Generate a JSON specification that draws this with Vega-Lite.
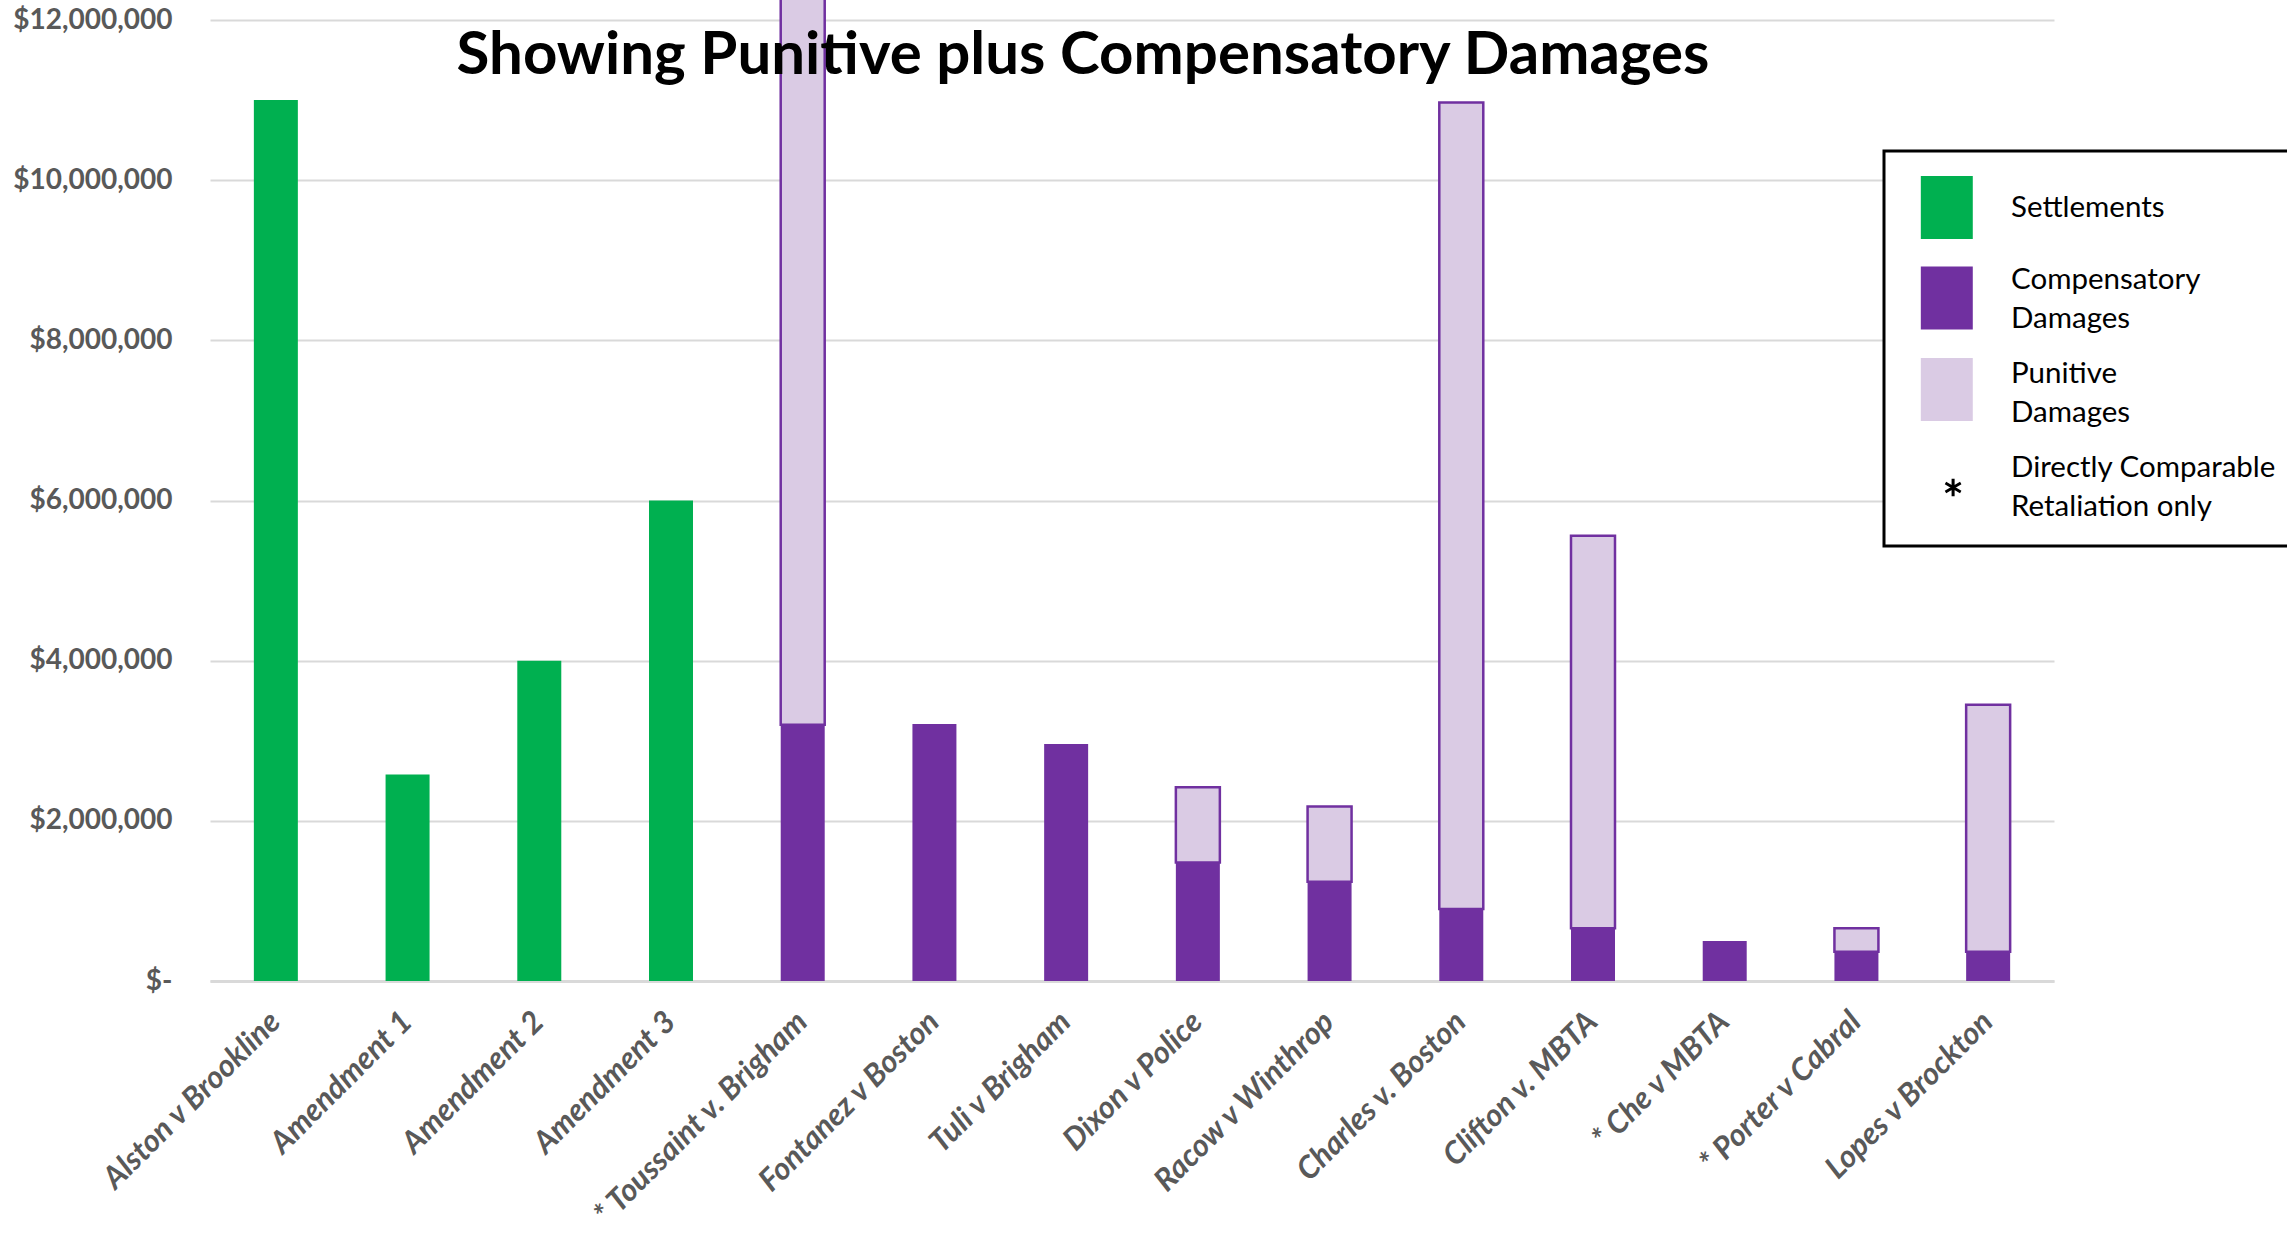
{
  "$schema": "https://vega.github.io/schema/vega-lite/v6.json",
  "width": 1844,
  "height": 961,
  "autosize": {"type": "none"},
  "padding": {"left": 210, "top": 20, "right": 233, "bottom": 265},
  "background": "white",
  "config": {
    "view": {"stroke": null},
    "font": "Lato",
    "legend": {"strokeWidth": 3},
    "style": {"guide-label": {"lineHeight": 39}}
  },
  "title": {
    "text": "Showing Punitive plus Compensatory Damages",
    "frame": "group",
    "anchor": "middle",
    "orient": "top",
    "offset": -139,
    "dx": -49,
    "baseline": "alphabetic",
    "font": "Lato",
    "fontSize": 60,
    "fontWeight": "bold",
    "color": "black"
  },
  "data": {
    "values": [
      {"case": "Alston v Brookline", "type": "Settlements", "amount": 11000000},
      {"case": "Amendment 1", "type": "Settlements", "amount": 2580000},
      {"case": "Amendment 2", "type": "Settlements", "amount": 4000000},
      {"case": "Amendment 3", "type": "Settlements", "amount": 6000000},
      {"case": "Toussaint v. Brigham", "type": "Compensatory Damages", "amount": 3200000},
      {"case": "Toussaint v. Brigham", "type": "Punitive Damages", "amount": 9100000},
      {"case": "Fontanez v Boston", "type": "Compensatory Damages", "amount": 3210000},
      {"case": "Tuli v Brigham", "type": "Compensatory Damages", "amount": 2960000},
      {"case": "Dixon v Police", "type": "Compensatory Damages", "amount": 1480000},
      {"case": "Dixon v Police", "type": "Punitive Damages", "amount": 940000},
      {"case": "Racow v Winthrop", "type": "Compensatory Damages", "amount": 1240000},
      {"case": "Racow v Winthrop", "type": "Punitive Damages", "amount": 940000},
      {"case": "Charles v. Boston", "type": "Compensatory Damages", "amount": 900000},
      {"case": "Charles v. Boston", "type": "Punitive Damages", "amount": 10070000},
      {"case": "Clifton v. MBTA", "type": "Compensatory Damages", "amount": 660000},
      {"case": "Clifton v. MBTA", "type": "Punitive Damages", "amount": 4900000},
      {"case": "Che v MBTA", "type": "Compensatory Damages", "amount": 500000},
      {"case": "Porter v Cabral", "type": "Compensatory Damages", "amount": 365000},
      {"case": "Porter v Cabral", "type": "Punitive Damages", "amount": 295000},
      {"case": "Lopes v Brockton", "type": "Compensatory Damages", "amount": 365000},
      {"case": "Lopes v Brockton", "type": "Punitive Damages", "amount": 3085000}
    ]
  },
  "encoding": {
    "x": {
      "field": "case",
      "type": "nominal",
      "sort": null,
      "scale": {"paddingInner": 0.666, "paddingOuter": 0.333},
      "axis": {
        "title": null,
        "labelAngle": -45,
        "labelAlign": "right",
        "labelBaseline": "middle",
        "labelPadding": 36,
        "labelFont": "Lato",
        "labelFontSize": 31,
        "labelFontWeight": "bold",
        "labelFontStyle": "italic",
        "labelColor": "#595959",
        "labelLimit": 0,
        "ticks": false,
        "domainColor": "#D9D9D9",
        "domainWidth": 3,
        "grid": false,
        "labelExpr": "indexof(['Toussaint v. Brigham','Che v MBTA','Porter v Cabral'], datum.value) >= 0 ? '*   ' + datum.value : datum.value"
      }
    },
    "y": {
      "field": "amount",
      "type": "quantitative",
      "scale": {"domain": [0, 12000000], "nice": false},
      "axis": {
        "title": null,
        "values": [0, 2000000, 4000000, 6000000, 8000000, 10000000, 12000000],
        "labelExpr": "datum.value == 0 ? '$-\u2007' : '$' + format(datum.value, ',')",
        "labelFont": "Lato",
        "labelFontSize": 28,
        "labelFontWeight": "bold",
        "labelColor": "#595959",
        "labelPadding": 38,
        "ticks": false,
        "domain": false,
        "gridColor": "#D9D9D9",
        "gridWidth": 2
      }
    }
  },
  "layer": [
    {
      "mark": {"type": "bar", "strokeWidth": 2.5},
      "encoding": {
        "y": {"field": "amount", "type": "quantitative", "stack": "zero"},
        "order": {"field": "type", "type": "nominal", "sort": "ascending"},
        "color": {
          "field": "type",
          "type": "nominal",
          "scale": {
            "domain": ["Settlements", "Compensatory Damages", "Punitive Damages", "Directly Comparable|Retaliation only"],
            "range": ["#00B050", "#7030A0", "#DACBE4", "black"]
          },
          "legend": {
            "orient": "none",
            "legendX": 1674,
            "legendY": 131,
            "title": null,
            "padding": 25,
            "strokeColor": "black",
            "fillColor": "white",
            "cornerRadius": 0,
            "symbolSize": 3969,
            "symbolStrokeWidth": 0,
            "labelFont": "Lato",
            "labelFontSize": 29.5,
            "labelColor": "black",
            "labelOffset": 39,
            "labelLimit": 0,
            "rowPadding": 9,
            "labelExpr": "indexof(datum.label, '|') >= 0 ? split(datum.label, '|') : split(datum.label, ' ')"
          }
        },
        "stroke": {
          "condition": {"test": "datum.type === 'Punitive Damages'", "value": "#7030A0"},
          "value": "transparent"
        }
      }
    },
    {
      "mark": {"type": "point", "size": 0, "strokeWidth": 0, "filled": true},
      "encoding": {
        "shape": {
          "field": "type",
          "type": "nominal",
          "scale": {
            "domain": ["Settlements", "Compensatory Damages", "Punitive Damages", "Directly Comparable|Retaliation only"],
            "range": [
              "M-0.625,-1H1.025V1H-0.625Z",
              "M-0.625,-0.41H1.025V1.59H-0.625Z",
              "M-0.625,-0.49H1.025V1.51H-0.625Z",
              "M0.352,0.355H0.448V0.915H0.352Z M0.18,0.456L0.665,0.736L0.62,0.814L0.135,0.534Z M0.135,0.736L0.62,0.456L0.665,0.534L0.18,0.814Z"
            ]
          },
          "legend": {
            "orient": "none",
            "legendX": 1674,
            "legendY": 131,
            "title": null,
            "padding": 25,
            "strokeColor": "black",
            "fillColor": "white",
            "cornerRadius": 0,
            "symbolSize": 3969,
            "symbolStrokeWidth": 0,
            "labelFont": "Lato",
            "labelFontSize": 29.5,
            "labelColor": "black",
            "labelOffset": 39,
            "labelLimit": 0,
            "rowPadding": 9,
            "labelExpr": "indexof(datum.label, '|') >= 0 ? split(datum.label, '|') : split(datum.label, ' ')"
          }
        }
      }
    }
  ]
}
